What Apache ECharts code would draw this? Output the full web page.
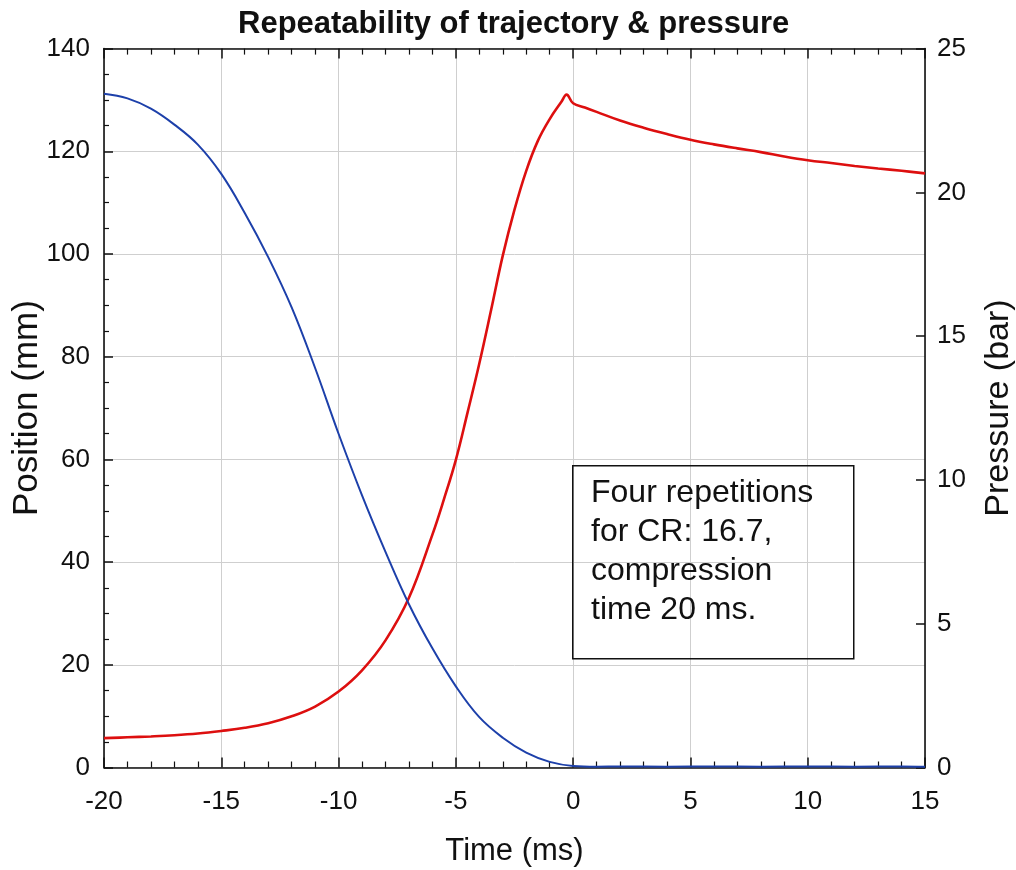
<!DOCTYPE html>
<html>
<head>
<meta charset="utf-8">
<script src="https://cdn.jsdelivr.net/npm/echarts@6/dist/echarts.min.js"></script>
<style>html,body{margin:0;padding:0;background:#fff;}#c{width:1016px;height:870px;}</style>
</head>
<body>
<div id="c"></div>
<script>
// ---- data ----
const titleText = 'Repeatability of trajectory & pressure';
const xName = 'Time (ms)';
const yLeftName = 'Position (mm)';
const yRightName = 'Pressure (bar)';
const noteLines = ['Four repetitions', 'for CR: 16.7,', 'compression', 'time 20 ms.'];

const posTime = [-20, -19, -18, -17, -16, -15, -14, -13, -12, -11, -10, -9, -8, -7, -6, -5, -4, -3, -2, -1, 0, 1, 2, 4, 6, 8, 10, 12, 14, 15];
const posValue = [131.2, 130.3, 128.3, 125.2, 121.3, 115.6, 108.0, 99.4, 89.6, 77.8, 65.0, 53.0, 42.0, 31.8, 23.2, 15.8, 9.8, 5.8, 2.9, 1.1, 0.3, 0.15, 0.2, 0.15, 0.2, 0.15, 0.2, 0.15, 0.2, 0.15];

const presTime = [-20, -19, -18, -17, -16, -15, -14, -13, -12, -11, -10, -9, -8, -7, -6, -5.5, -5, -4.5, -4, -3.5, -3, -2.5, -2, -1.5, -1, -0.5, -0.28, 0, 0.5, 1, 2, 3, 4, 5, 6, 7, 8, 9, 10, 11, 12, 13, 14, 15];
const presValue = [1.02, 1.05, 1.08, 1.12, 1.18, 1.27, 1.38, 1.54, 1.78, 2.12, 2.64, 3.38, 4.42, 5.9, 8.1, 9.35, 10.7, 12.35, 14.05, 15.9, 17.8, 19.4, 20.75, 21.8, 22.55, 23.15, 23.4, 23.1, 22.95, 22.8, 22.5, 22.25, 22.03, 21.83, 21.67, 21.53, 21.4, 21.25, 21.12, 21.02, 20.92, 20.83, 20.75, 20.66];

const xMin = -20, xMax = 15, xStep = 5;
const yLeftMin = 0, yLeftMax = 140, yLeftStep = 20;
const yRightMin = 0, yRightMax = 25, yRightStep = 5;

// ---- chart ----
const FONT = '"Liberation Sans", Arial, sans-serif';
const chart = echarts.init(document.getElementById('c'), null, {renderer: 'canvas'});

const lineStyle = {color: '#111', width: 1.6};
const gridLine = {show: true, lineStyle: {color: '#cfcfcf', width: 1}};

const baseX = {
  type: 'value', min: xMin, max: xMax, interval: xStep,
  axisLine: {show: true, onZero: false, lineStyle: lineStyle},
  axisTick: {show: true, inside: true, length: 10, lineStyle: {color: '#111', width: 1.5}},
  minorTick: {show: true, splitNumber: 5, length: 6, lineStyle: {color: '#111', width: 1.2}},
  axisLabel: {show: true, color: '#111', fontSize: 26, fontFamily: FONT, margin: 21}
};

const option = {
  animation: false,
  backgroundColor: '#fff',
  title: {
    text: titleText, left: 233, top: 4,
    textStyle: {fontSize: 31, fontWeight: 'bold', color: '#111', fontFamily: FONT}
  },
  grid: {left: 104, right: 91, top: 48.6, bottom: 102.5, containLabel: false, outerBoundsMode: 'none'},
  xAxis: [
    Object.assign({}, baseX, {
      position: 'bottom', splitLine: gridLine,
      name: xName, nameLocation: 'middle', nameGap: 68, nameMoveOverlap: false,
      nameTextStyle: {fontSize: 31, color: '#111', fontFamily: FONT}
    }),
    Object.assign({}, baseX, {
      position: 'top', splitLine: {show: false},
      axisLabel: {show: false}
    })
  ],
  yAxis: [
    {
      type: 'value', min: yLeftMin, max: yLeftMax, interval: yLeftStep, position: 'left',
      axisLine: {show: true, onZero: false, lineStyle: lineStyle},
      axisTick: {show: true, inside: true, length: 9, lineStyle: {color: '#111', width: 1.5}},
      minorTick: {show: true, splitNumber: 4, length: 5, lineStyle: {color: '#111', width: 1.2}},
      splitLine: gridLine,
      axisLabel: {color: '#111', fontSize: 26, fontFamily: FONT, margin: 14},
      name: yLeftName, nameLocation: 'middle', nameGap: 59, nameRotate: 90, nameMoveOverlap: false,
      nameTextStyle: {fontSize: 35, color: '#111', fontFamily: FONT}
    },
    {
      type: 'value', min: yRightMin, max: yRightMax, interval: yRightStep, position: 'right',
      axisLine: {show: true, onZero: false, lineStyle: lineStyle},
      axisTick: {show: true, inside: true, length: 9, lineStyle: {color: '#111', width: 1.5}},
      splitLine: {show: false},
      axisLabel: {color: '#111', fontSize: 26, fontFamily: FONT, margin: 12},
      name: yRightName, nameLocation: 'middle', nameGap: 57, nameRotate: 90,
      nameTextStyle: {fontSize: 34, color: '#111', fontFamily: FONT}
    }
  ],
  series: [
    {
      name: yLeftName, type: 'line', xAxisIndex: 0, yAxisIndex: 0,
      data: posTime.map((t, i) => [t, posValue[i]]),
      smooth: 0.4, showSymbol: false, symbol: 'none',
      lineStyle: {color: '#1d40aa', width: 2}, z: 3
    },
    {
      name: yRightName, type: 'line', xAxisIndex: 0, yAxisIndex: 1,
      data: presTime.map((t, i) => [t, presValue[i]]),
      smooth: 0.4, showSymbol: false, symbol: 'none',
      lineStyle: {color: '#dd0f0f', width: 2.6}, z: 2
    }
  ],
  graphic: [
    {
      type: 'rect', left: 572, top: 465, z: 10,
      shape: {width: 281, height: 193},
      style: {fill: 'transparent', stroke: '#111', lineWidth: 1.5}
    },
    {
      type: 'text', left: 591, top: 474, z: 11,
      style: {text: noteLines.join('\n'), font: '32px ' + FONT, fill: '#111', lineHeight: 39}
    }
  ]
};
chart.setOption(option);
</script>
</body>
</html>
